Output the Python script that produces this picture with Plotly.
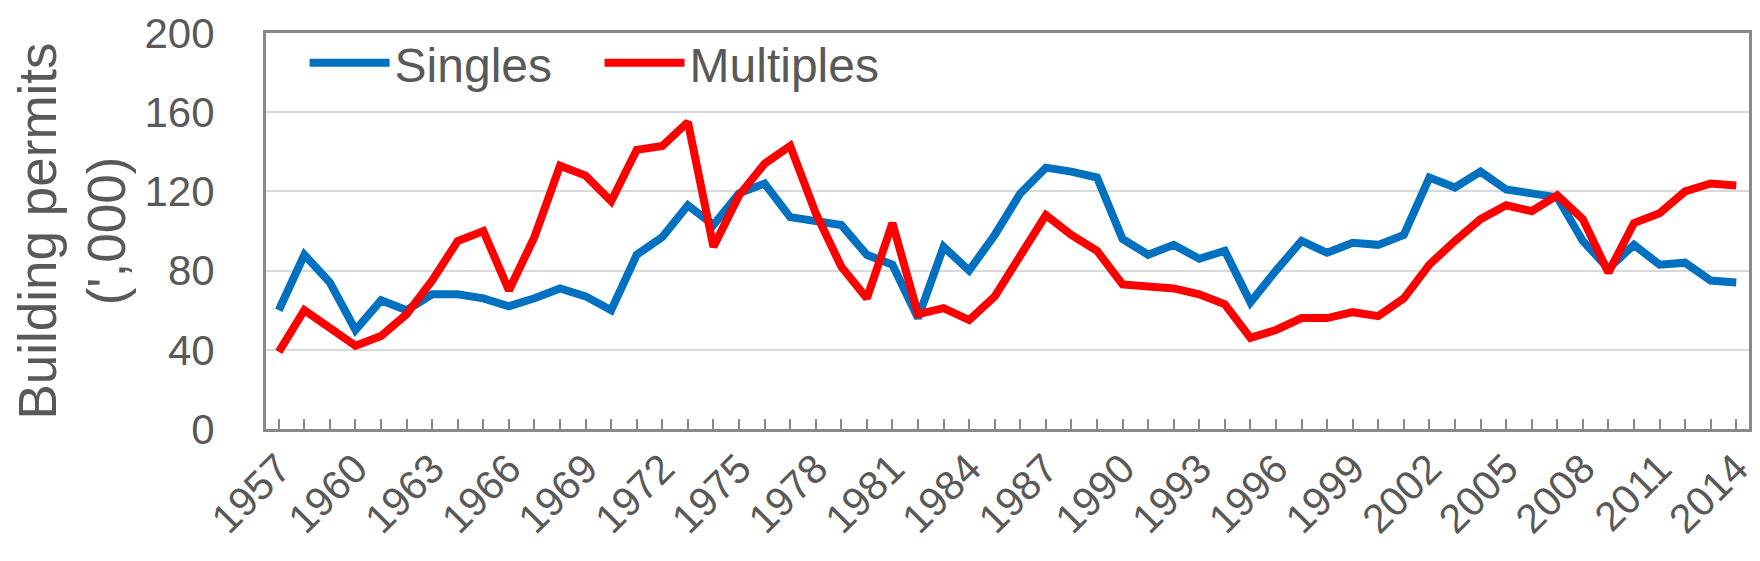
import plotly.graph_objects as go

# Building permits by year, thousands
years = list(range(1957, 2015))

singles = [60, 88, 74, 50, 65, 60, 68, 68, 66, 62,
           66, 71, 67, 60, 88, 97, 113, 103, 119, 124,
           107, 105, 103, 88, 83, 56, 92, 80, 98, 119,
           132, 130, 127, 96, 88, 93, 86, 90, 64, 80,
           95, 89, 94, 93, 98, 127, 122, 130, 121, 119,
           117, 95, 81, 93, 83, 84, 75, 74]

multiples = [39, 60, 51, 42, 47, 58, 75, 95, 100, 70,
             97, 133, 128, 115, 141, 143, 155, 92, 118, 134,
             143, 109, 82, 66, 104, 58, 61, 55, 67, 88,
             108, 98, 90, 73, 72, 71, 68, 63, 46, 50,
             56, 56, 59, 57, 66, 83, 95, 106, 113, 110,
             118, 106, 79, 104, 109, 120, 124, 123]

# every year gets a tick mark, every third year a label
tick_labels = [str(y) if (y - 1957) % 3 == 0 else "" for y in years]
y_ticks = [0, 40, 80, 120, 160, 200]

TEXT = "#595959"
AXIS = "#898989"
FONT = "Liberation Sans, Arial, sans-serif"

fig = go.Figure()
fig.add_trace(go.Scatter(x=years, y=singles, name="Singles", mode="lines",
                         line=dict(color="#0070C0", width=8)))
fig.add_trace(go.Scatter(x=years, y=multiples, name="Multiples", mode="lines",
                         line=dict(color="#FF0000", width=8)))

fig.update_layout(
    width=1760, height=561,
    margin=dict(l=258, r=19, t=25, b=140),
    plot_bgcolor="white",
    paper_bgcolor="white",
    font=dict(family=FONT, color=TEXT, size=44),
    legend=dict(
        orientation="h",
        x=0.026, y=1.02,
        xanchor="left", yanchor="top",
        bgcolor="rgba(0,0,0,0)",
        font=dict(size=48, color=TEXT),
        itemwidth=80,
        entrywidth=200,
    ),
    showlegend=True,
)

fig.update_xaxes(
    type="linear",
    range=[1956.5, 2014.5],
    tickvals=years,
    ticktext=tick_labels,
    tickangle=-45,
    ticks="inside",
    ticklen=10,
    tickwidth=2,
    tickcolor=AXIS,
    ticklabelstandoff=-4,
    ticklabeloverflow="allow",
    automargin=False,
    showgrid=False,
    showline=True,
    linecolor=AXIS,
    linewidth=3,
    mirror=True,
    zeroline=False,
    tickfont=dict(size=41, color=TEXT),
)

fig.update_yaxes(
    range=[0, 200],
    tickvals=y_ticks,
    ticks="",
    ticklabelstandoff=40,
    ticklabeloverflow="allow",
    automargin=False,
    showgrid=True,
    gridcolor="#d9d9d9",
    gridwidth=2,
    showline=True,
    linecolor=AXIS,
    linewidth=3,
    mirror=True,
    zeroline=False,
    tickfont=dict(size=42, color=TEXT),
    title=dict(text="Building permits<br>(',000)", font=dict(size=53, color=TEXT),
               standoff=8),
)

fig.write_html("out.html")
